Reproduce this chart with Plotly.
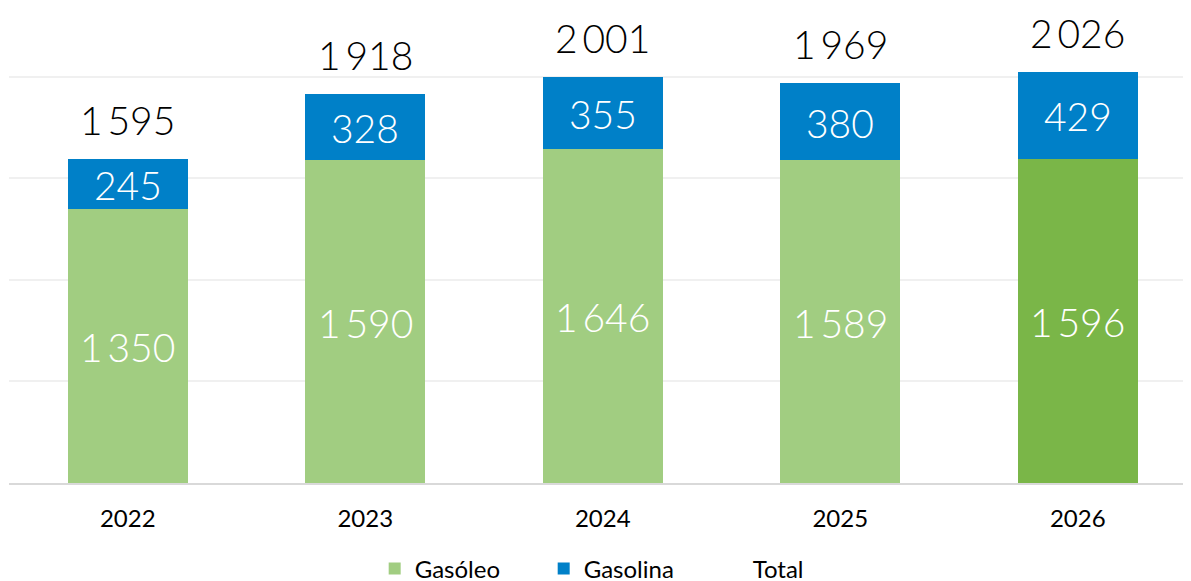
import plotly.graph_objects as go

years = ["2022", "2023", "2024", "2025", "2026"]
gasoleo = [1350, 1590, 1646, 1589, 1596]
gasolina = [245, 328, 355, 380, 429]
total = [1595, 1918, 2001, 1969, 2026]

def fmt(v):
    s = f"{v:,}".replace(",", "\u2009")
    return s

green_light = "#A1CD81"
green_dark = "#7AB648"
blue = "#0080C8"
gas_colors = [green_light] * 4 + [green_dark]

FONT = "Lato"

fig = go.Figure()
fig.add_trace(go.Bar(
    x=years, y=gasoleo, name="Gasóleo", marker=dict(color=gas_colors, line=dict(width=0)),
    width=0.505, hoverinfo="skip",
))
fig.add_trace(go.Bar(
    x=years, y=gasolina, name="Gasolina", marker=dict(color=blue, line=dict(width=0)),
    width=0.505, hoverinfo="skip",
))
# legend entry for the total (no visible mark)
fig.add_trace(go.Scatter(
    x=years, y=total, name="Total", mode="lines",
    line=dict(color="rgba(0,0,0,0)", width=0), hoverinfo="skip",
))

# data labels (category axis: annotation x is the category index)
for i, (g, b, t) in enumerate(zip(gasoleo, gasolina, total)):
    fig.add_annotation(
        x=i, y=g / 2, xref="x", yref="y", text=fmt(g), showarrow=False,
        yanchor="middle", yshift=-1,
        font=dict(family=FONT, size=39, color="white", weight=300),
    )
    fig.add_annotation(
        x=i, y=g + b / 2, xref="x", yref="y", text=fmt(b), showarrow=False,
        yanchor="middle", yshift=-1,
        font=dict(family=FONT, size=39, color="white", weight=300),
    )
    fig.add_annotation(
        x=i, y=t, xref="x", yref="y", text=fmt(t), showarrow=False,
        yanchor="middle", yshift=39, borderpad=0,
        font=dict(family=FONT, size=39, color="#000000", weight=300),
    )

fig.update_layout(
    width=1191, height=581,
    barmode="stack",
    paper_bgcolor="white", plot_bgcolor="white",
    margin=dict(l=1, r=0, t=0, b=106, autoexpand=False),
    font=dict(family=FONT, color="#000000"),
    xaxis=dict(
        type="category", range=[-0.5, 4.5105], showgrid=False, showline=True,
        linecolor="#D9D9D9", linewidth=2,
        tickfont=dict(family=FONT, size=24, color="#000000"), ticks="",
        ticklabelstandoff=13, fixedrange=True,
    ),
    yaxis=dict(
        range=[0, 2339], tickvals=[500, 1000, 1500, 2000], showticklabels=False,
        showgrid=True, gridcolor="#F0F0F0", gridwidth=2, zeroline=False, fixedrange=True,
    ),
    legend=dict(
        orientation="h", x=0.3073, xanchor="left", y=-0.181, yanchor="middle",
        font=dict(family=FONT, size=24, color="#000000"),
        entrywidth=124, entrywidthmode="pixels", traceorder="normal",
        itemclick=False, itemdoubleclick=False,
    ),
    showlegend=True,
)

fig.write_html("out.html")
